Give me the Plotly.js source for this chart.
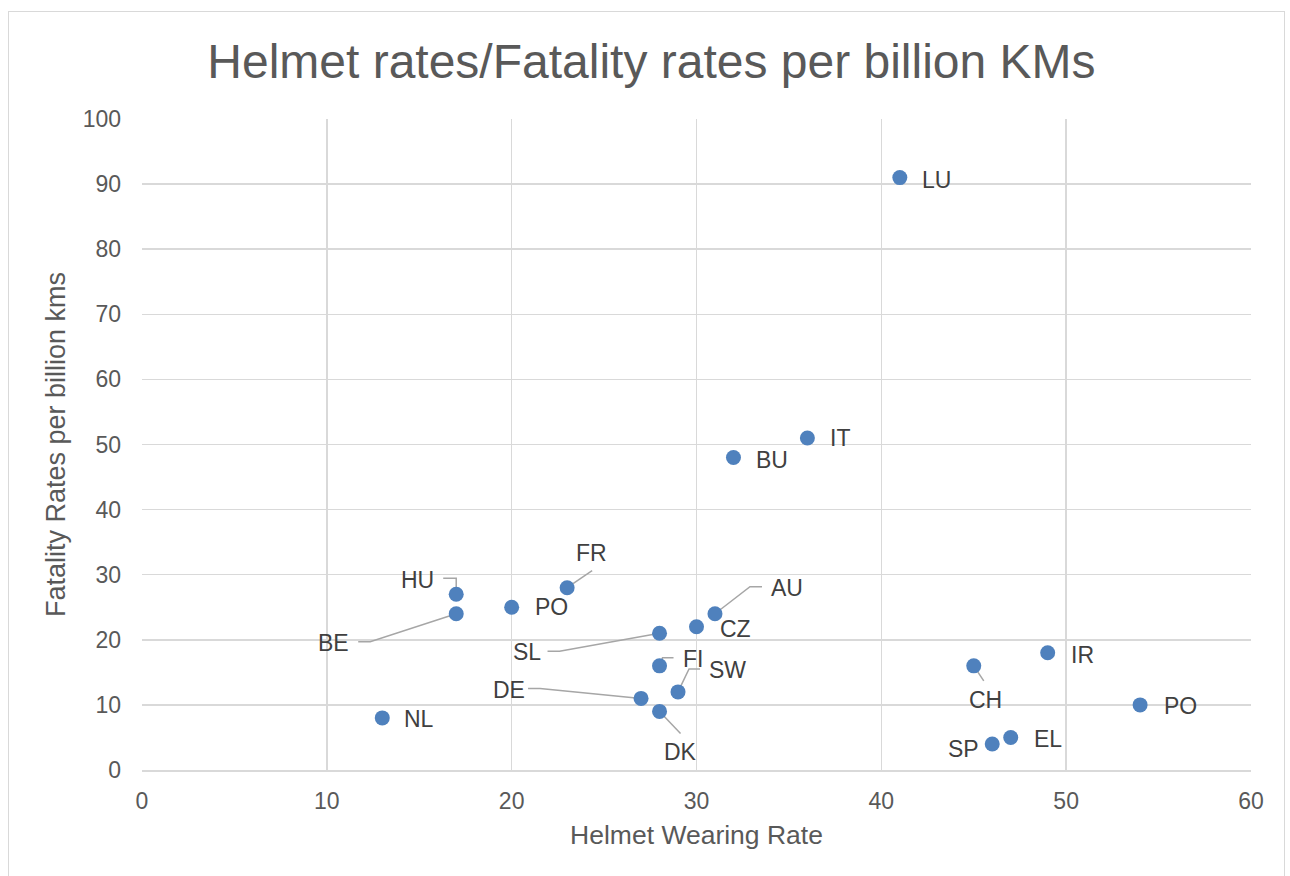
<!DOCTYPE html>
<html>
<head>
<meta charset="utf-8">
<script src="https://cdn.plot.ly/plotly-3.0.1.min.js"></script>
<style>
  html, body { margin: 0; padding: 0; background: #ffffff; }
  #wrap { position: relative; width: 1290px; height: 876px; overflow: hidden; }
  #frame { position: absolute; left: 8px; top: 11px; width: 1277px; height: 900px; border: 1.5px solid #d9d9d9; box-sizing: border-box; pointer-events: none; }
  #chart { position: absolute; left: 0; top: 0; width: 1290px; height: 876px; }
</style>
</head>
<body>
<div id="wrap">
  <div id="chart"></div>
  <div id="frame"></div>
</div>
<script>
// Data
const countries = ['LU','IT','BU','FR','HU','BE','PO','AU','CZ','SL','FI','SW','DE','DK','NL','CH','IR','PO','EL','SP'];
const helmetRate = [41,36,32,23,17,17,20,31,30,28,28,29,27,28,13,45,49,54,47,46];
const fatalityRate = [91,51,48,28,27,24,25,24,22,21,16,12,11,9,8,16,18,10,5,4];

// Label placement: pixel offset of label centre from its point (screen y down)
const labelDx = [37,33,39,24,-39,-123,40,72,39,-133,33,49,-132,21,37,12,35,40,37,-29];
const labelDy = [2,0,2,-35,-14,29,0,-26,2,19,-7,-22,-8,41,1,34,2,1,2,5];
// Leader line polylines (pixel offsets from point, screen y down); null = no leader
const leaders = [
  null, null, null,
  [[0,0],[25,-17]],                 // FR
  [[0,0],[0,-16],[-13,-16]],        // HU
  [[0,0],[-86,28],[-98,28]],        // BE
  null,
  [[0,0],[35,-27],[47,-27]],        // AU
  null,
  [[0,0],[-100,18],[-112,18]],      // SL
  [[0,0],[3,-8],[14,-8]],           // FI
  [[0,0],[11,-23],[22,-23]],        // SW
  [[0,0],[-101,-10],[-113,-10]],    // DE
  [[0,0],[21,22]],                  // DK
  null,
  [[0,0],[10,15]],                  // CH
  null, null, null, null
];

const FONT = 'Liberation Sans, Arial, sans-serif';

const annotations = countries.map((c, i) => ({
  x: helmetRate[i], y: fatalityRate[i], xref: 'x', yref: 'y',
  text: c, showarrow: false,
  xanchor: 'center', yanchor: 'middle',
  xshift: labelDx[i], yshift: -labelDy[i],
  font: {family: FONT, size: 23, color: '#404040'}
}));

const shapes = [];
leaders.forEach((pts, i) => {
  if (!pts) return;
  const path = pts.map((p, k) => (k === 0 ? 'M' : 'L') + p[0] + ',' + (-p[1])).join(' ');
  shapes.push({
    type: 'path', layer: 'between',
    xref: 'x', yref: 'y',
    xsizemode: 'pixel', ysizemode: 'pixel',
    xanchor: helmetRate[i], yanchor: fatalityRate[i],
    path: path,
    line: {color: '#a6a6a6', width: 1.5}
  });
});

const trace = {
  type: 'scatter', mode: 'markers',
  x: helmetRate, y: fatalityRate,
  marker: {size: 15, color: '#4f81bd'},
  hoverinfo: 'x+y+text', text: countries
};

const layout = {
  width: 1290, height: 876,
  margin: {l: 142, r: 39, t: 119, b: 106},
  paper_bgcolor: '#ffffff', plot_bgcolor: '#ffffff',
  showlegend: false,
  title: {
    text: 'Helmet rates/Fatality rates per billion KMs',
    font: {family: FONT, size: 48, color: '#595959'},
    x: 0.505, xanchor: 'center', y: 0.93, yanchor: 'middle', yref: 'container'
  },
  xaxis: {
    range: [0, 60], dtick: 10, tick0: 0,
    showgrid: true, gridcolor: '#d9d9d9', gridwidth: 1.5,
    showline: true, linecolor: '#d9d9d9', linewidth: 1.5,
    zeroline: false, ticks: '', ticklabelstandoff: 10,
    tickfont: {family: FONT, size: 23, color: '#595959'},
    title: {text: 'Helmet Wearing Rate', font: {family: FONT, size: 26.5, color: '#595959'}, standoff: 12}
  },
  yaxis: {
    range: [0, 100], dtick: 10, tick0: 0,
    showgrid: true, gridcolor: '#d9d9d9', gridwidth: 1.5,
    showline: false, zeroline: false, ticks: '', ticklabelstandoff: 20,
    tickfont: {family: FONT, size: 23, color: '#595959'},
    title: {text: 'Fatality Rates per billion kms', font: {family: FONT, size: 27, color: '#595959'}, standoff: 9}
  },
  shapes: shapes,
  annotations: annotations
};

Plotly.newPlot('chart', [trace], layout, {displayModeBar: false, staticPlot: true});
</script>
</body>
</html>
